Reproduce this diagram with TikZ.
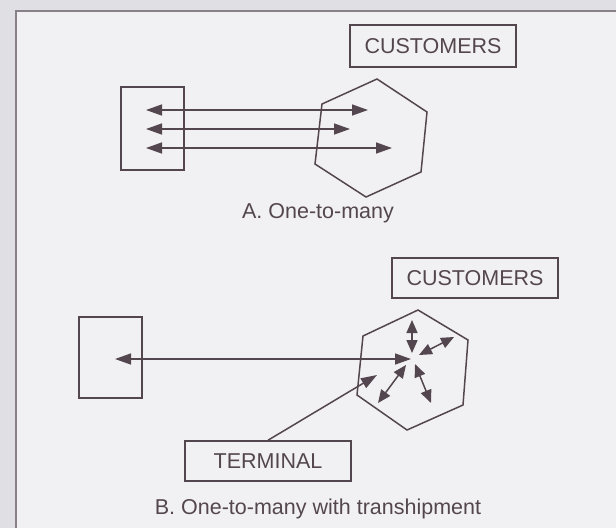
\documentclass[tikz,border=0pt]{standalone}
\usepackage{fontspec}
\setmainfont{Liberation Sans}
\usetikzlibrary{arrows.meta}
\usetikzlibrary{positioning}
\definecolor{ink}{RGB}{84,70,78}
\definecolor{paper}{RGB}{224,224,228}
\definecolor{sheet}{RGB}{241,241,243}
\definecolor{frameline}{RGB}{136,130,136}

\begin{document}
\begin{tikzpicture}[x=1pt,y=-1pt,
    box/.style={draw=ink, line width=1.5pt, rectangle, inner sep=0pt, text=ink, font=\fontsize{21.5}{25}\selectfont},
    caption/.style={text=ink, font=\fontsize{21.5}{25}\selectfont},
    zone/.style={draw=ink, line width=1.5pt, line join=miter},
    flow/.style={draw=ink, line width=1.5pt, -{Triangle[length=16pt,width=11pt]}},
    twoway/.style={draw=ink, line width=1.5pt, {Triangle[length=16pt,width=11pt]}-{Triangle[length=16pt,width=11pt]}},
    spoke/.style={draw=ink, line width=1.5pt, {Triangle[length=13pt,width=11pt]}-{Triangle[length=13pt,width=11pt]}}]

    % page and figure frame
    \fill[paper] (0,0) rectangle (616,528);
    \useasboundingbox (0,0) rectangle (616,528);
    \fill[sheet] (16,11) rectangle (616,528);
    \draw[frameline, line width=2pt] (16,528) -- (16,11) -- (616,11);

    % A. one-to-many
    \node[box, minimum width=166pt, minimum height=42pt] (custA) at (433,46) {CUSTOMERS};
    \node[box, minimum width=63pt, minimum height=83pt] (depotA) at (152.5,128.5) {};
    \draw[zone] (377,79) -- (427,112) -- (421,172) -- (366,197) -- (315,164) -- (322,104) -- cycle;

    \coordinate (a1l) at (146,110);
    \coordinate (a1r) at (368,110);
    \coordinate (a2l) at (146,129);
    \coordinate (a2r) at (350,129);
    \coordinate (a3l) at (146,148);
    \coordinate (a3r) at (392,148);
    \draw[twoway] (a1l) -- (a1r);
    \draw[twoway] (a2l) -- (a2r);
    \draw[twoway] (a3l) -- (a3r);

    \node[caption] (capA) at (318,213) {A. One-to-many};

    % B. one-to-many with transhipment
    \node[box, minimum width=166pt, minimum height=40pt] (custB) at (475,278) {CUSTOMERS};
    \node[box, minimum width=63pt, minimum height=81pt] (depotB) at (110.5,357.5) {};
    \node[box, minimum width=166pt, minimum height=40pt] (term) at (268,461) {TERMINAL};
    \draw[zone] (418,310) -- (468,340) -- (463,405) -- (407,430) -- (357,395) -- (363,336) -- cycle;

    \coordinate (hubL) at (411,359);
    \coordinate (outL) at (115,359);
    \coordinate (inU) at (412,353);
    \coordinate (outU) at (412,320);
    \coordinate (inUR) at (419,355);
    \coordinate (outUR) at (454,337);
    \coordinate (inDR) at (415,364);
    \coordinate (outDR) at (431,403);
    \coordinate (inDL) at (406,365);
    \coordinate (outDL) at (378,403);
    \coordinate (drop) at (377,375);

    \draw[twoway] (hubL) -- (outL);
    \draw[spoke] (inU) -- (outU);
    \draw[spoke] (inUR) -- (outUR);
    \draw[spoke] (inDR) -- (outDR);
    \draw[spoke] (inDL) -- (outDL);
    \draw[flow] (term.north) -- (drop);

    \node[caption] (capB) at (318,509) {B. One-to-many with transhipment};
\end{tikzpicture}
\end{document}
